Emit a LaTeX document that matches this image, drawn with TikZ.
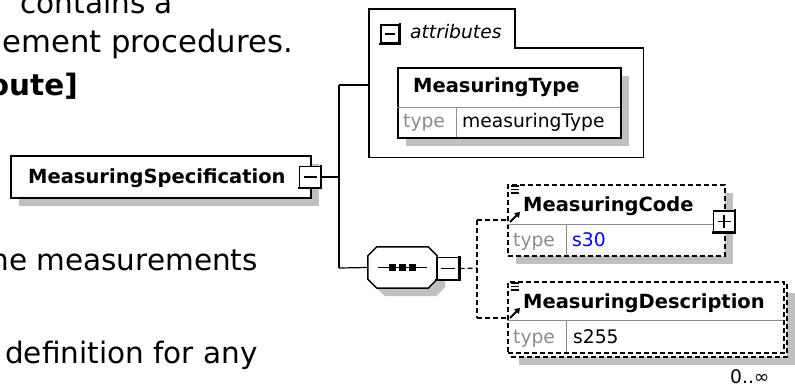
\documentclass[tikz,border=0pt]{standalone}
\usepackage{fontspec}
\setmainfont{DejaVu Sans}
\usetikzlibrary{shadows,calc,arrows.meta}
\definecolor{shadowgray}{RGB}{192,192,192}
\definecolor{sepgray}{RGB}{140,140,140}
\definecolor{typegray}{RGB}{140,140,140}
\definecolor{valblue}{RGB}{0,0,255}
\newcommand\octpathx[2]{($(seq.north west)+(#1,#2+9)$) -- ($(seq.north west)+(#1+9,#2)$) -- ($(seq.north east)+(#1-9,#2)$) -- ($(seq.north east)+(#1,#2+9)$) -- ($(seq.south east)+(#1,#2-9)$) -- ($(seq.south east)+(#1-9,#2)$) -- ($(seq.south west)+(#1+9,#2)$) -- ($(seq.south west)+(#1,#2-9)$) -- cycle}
\begin{document}
\begin{tikzpicture}[x=1pt,y=-1pt,
  bodytxt/.style={font=\fontsize{29.5}{34}\selectfont, inner sep=0},
  nametxt/.style={font=\fontsize{19.5}{22}\selectfont\bfseries, inner sep=0, anchor=base west},
  valtxt/.style={font=\fontsize{18.7}{22}\selectfont, inner sep=0, anchor=base west},
  typetxt/.style={valtxt, text=typegray},
  boxshadow/.style={general shadow={fill=shadowgray, shadow xshift=8pt, shadow yshift=-8pt}},
  solidbox/.style={draw=black, fill=white, line width=1.5pt, rectangle, inner sep=0, anchor=north west},
  dashbox/.style={solidbox, dash pattern=on 5pt off 3pt},
  btnbox/.style={draw=black, fill=white, line width=1.2pt, rectangle, inner sep=0, minimum size=#1},
  minussign/.style={path picture={\draw[line width=1.2pt] ([xshift=4pt]path picture bounding box.west) -- ([xshift=-4pt]path picture bounding box.east);}},
  plussign/.style={path picture={\draw[line width=1.2pt] ([xshift=4pt]path picture bounding box.west) -- ([xshift=-4pt]path picture bounding box.east); \draw[line width=1.2pt] ([yshift=-4pt]path picture bounding box.north) -- ([yshift=4pt]path picture bounding box.south);}},
  btnedge/.style={line width=2.6pt, line cap=rect},
  sepline/.style={draw=sepgray, line width=1pt},
  wire/.style={draw=black, line width=1.2pt},
  dwire/.style={draw=black, line width=1.2pt, dash pattern=on 5pt off 3pt},
  iconline/.style={line width=1.1pt},
  refarrow/.style={line width=2pt, -{Triangle[length=5pt,width=6.5pt]}},
]
\useasboundingbox (0,0) rectangle (795,388);

% background prose (cut off)
\node[bodytxt, anchor=base east] (t1) at (173,13) {contains a};
\node[bodytxt, anchor=base east, font=\fontsize{30.7}{34}\selectfont] (t2) at (293,52) {ement procedures.};
\node[bodytxt, anchor=base east, font=\fontsize{29.5}{34}\selectfont\bfseries] (t3) at (78,95) {oute]};
\node[bodytxt, anchor=base east] (t4) at (258,270) {ne measurements};
\node[bodytxt, anchor=base west] (t5) at (5,363) {definition for any};

% MeasuringSpecification
\node[solidbox, boxshadow, minimum width=300pt, minimum height=42pt] (spec) at (10,155) {};
\node[nametxt] (specname) at (28,183) {MeasuringSpecification};
\node[btnbox=21pt, minussign] (specbtn) at (310,177) {};
\draw[btnedge] (specbtn.north east) -- (specbtn.south east) -- (specbtn.south west);

% attributes group
\node[rectangle, draw=none, minimum width=274pt, minimum height=109pt, inner sep=0, anchor=north west] (attrs) at (369,48) {};
\draw[line width=1.5pt] (attrs.south west) -- ($(attrs.north west)+(0,-39)$) -- ($(attrs.north west)+(146,-39)$) -- ($(attrs.north west)+(146,0)$) -- (attrs.north east) -- (attrs.south east) -- cycle;
\node[btnbox=18pt, minussign] (attrbtn) at (390,34) {};
\draw[line width=2pt, line cap=rect] (attrbtn.north east) -- (attrbtn.south east) -- (attrbtn.south west);
\node[valtxt, font=\fontsize{18.7}{22}\selectfont\itshape] (attrlabel) at (410,38) {attributes};

% MeasuringType attribute
\node[solidbox, boxshadow, minimum width=223pt, minimum height=70pt] (mtype) at (397,67) {};
\draw[sepline] (397,107) -- (620,107);
\draw[sepline] (456,107) -- (456,137);
\node[nametxt] (mtypename) at (413,92) {MeasuringType};
\node[typetxt] (mtypet) at (403,127) {type};
\node[valtxt] (mtypev) at (462,127) {measuringType};

% sequence compositor
\node[rectangle, draw=none, minimum width=69pt, minimum height=41pt, inner sep=0] (seq) at (402.5,267.5) {};
\fill[shadowgray] \octpathx{8}{8};
\draw[line width=1.5pt, fill=white] \octpathx{0}{0};
\draw[line width=1.2pt] ($(seq.west)+(10,0)$) -- ($(seq.east)+(-10,0)$);
\foreach \dx in {-10,0,10} \fill ($(seq.center)+(\dx,0)+(-3.2,-3.2)$) rectangle ($(seq.center)+(\dx,0)+(3.2,3.2)$);
\node[btnbox=22pt, minussign] (seqbtn) at (448,268.5) {};
\draw[btnedge] (seqbtn.north east) -- (seqbtn.south east) -- (seqbtn.south west);

% MeasuringCode element
\node[dashbox, boxshadow, minimum width=217pt, minimum height=71pt] (code) at (507,184) {};
\draw[sepline] (507,224) -- (713,224);
\draw[sepline] (566,224) -- (566,255);
\node[nametxt] (codename) at (523,211) {MeasuringCode};
\node[typetxt] (codet) at (513,246) {type};
\node[valtxt, text=valblue] (codev) at (572,246) {s30};
\draw[iconline] (511,186) -- (519,186) (511,189.5) -- (519,189.5) (511,193) -- (519,193);
\draw[refarrow] (510,222) -- (520,212);
\node[btnbox=21pt, plussign] (codebtn) at (724,221.5) {};
\draw[btnedge] (codebtn.north east) -- (codebtn.south east) -- (codebtn.south west);

% MeasuringDescription element (repeated)
\node[dashbox, boxshadow, minimum width=276pt, minimum height=72pt] (descback) at (510,284) {};
\node[dashbox, minimum width=276pt, minimum height=71pt] (desc) at (507,281) {};
\draw[sepline] (507,320) -- (783,320);
\draw[sepline] (566,320) -- (566,352);
\node[nametxt] (descname) at (523,308) {MeasuringDescription};
\node[typetxt] (desct) at (513,343) {type};
\node[valtxt] (descv) at (573,343) {s255};
\draw[iconline] (511,283) -- (519,283) (511,286.5) -- (519,286.5) (511,290) -- (519,290);
\draw[refarrow] (510,318) -- (520,308);
\node[valtxt] (mult) at (730,383) {0..∞};

% connectors
\coordinate (busTop) at (339,85);
\coordinate (busBot) at (339,268);
\draw[wire] (specbtn.east) -- (specbtn.east -| busTop);
\draw[wire] (busTop) -- (busBot);
\draw[wire] (busTop) -- (busTop -| attrs.west);
\draw[wire] (busBot) -- (seq.west);
\coordinate (fork) at (477,268);
\coordinate (forkT) at (477,220);
\coordinate (forkB) at (477,318);
\draw[dwire] (seqbtn.east) -- (fork);
\draw[dwire] (forkT) -- (forkB);
\draw[dwire] (forkT) -- (forkT -| code.west);
\draw[dwire] (forkB) -- (forkB -| desc.west);
\end{tikzpicture}
\end{document}
